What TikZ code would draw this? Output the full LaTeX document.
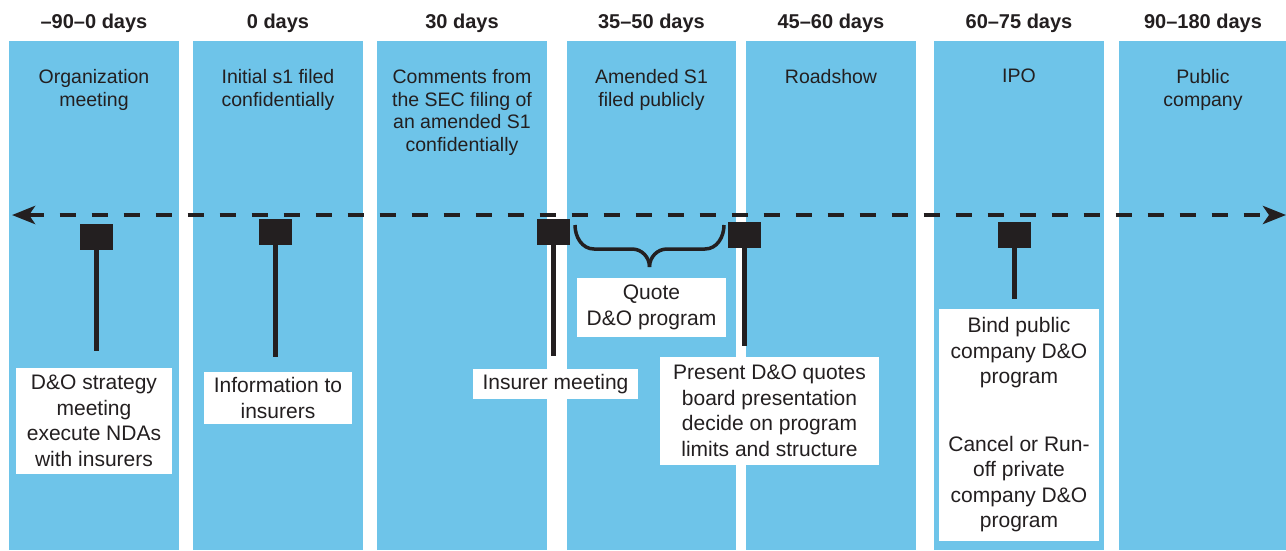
\documentclass[tikz,border=0pt]{standalone}
\usepackage{fontspec}
\setmainfont{Liberation Sans}
\usetikzlibrary{arrows.meta}
\definecolor{colblue}{HTML}{6EC4E9}
\definecolor{ink}{HTML}{231F20}
\begin{document}
\begin{tikzpicture}[x=1pt,y=-1pt,
 col/.style={fill=colblue, draw=none, inner sep=0, minimum height=509pt, anchor=north west},
 hdr/.style={font=\bfseries\fontsize{20}{24}\selectfont, text=ink, anchor=base, inner sep=0},
 ctext/.style={font=\fontsize{19.5}{22.7}\selectfont, text=ink, align=center, anchor=north, inner sep=0},
 txtbox/.style={fill=white, text=ink, font=\fontsize{21}{25.5}\selectfont, align=center, inner sep=0},
 marker/.style={fill=ink, minimum width=33pt, minimum height=26pt, inner sep=0},
 stem/.style={draw=ink, line width=5pt},
 timeline/.style={draw=ink, line width=4.5pt, dash pattern=on 16.5pt off 15.5pt,
   {Stealth[length=23pt,width=18pt,inset=6pt]}-{Stealth[length=23pt,width=18pt,inset=6pt]}},
 bracestyle/.style={draw=ink, line width=3.5pt},
]
\useasboundingbox (0,0) rectangle (1286,550);
\fill[white] (0,0) rectangle (1286,550);

% columns
\node[col, minimum width=170pt] (c1) at (9,41) {};
\node[col, minimum width=170pt] (c2) at (193,41) {};
\node[col, minimum width=170pt] (c3) at (377,41) {};
\node[col, minimum width=169pt] (c4) at (567,41) {};
\node[col, minimum width=170pt] (c5) at (746,41) {};
\node[col, minimum width=170pt] (c6) at (934,41) {};
\node[col, minimum width=167pt] (c7) at (1119,41) {};

% headers
\node[hdr] (h1) at (94,28) {–90–0 days};
\node[hdr] (h2) at (278,28) {0 days};
\node[hdr] (h3) at (462,28) {30 days};
\node[hdr] (h4) at (651.5,28) {35–50 days};
\node[hdr] (h5) at (831,28) {45–60 days};
\node[hdr] (h6) at (1019,28) {60–75 days};
\node[hdr] (h7) at (1203,28) {90–180 days};

% column texts
\node[ctext] (t1) at (94,69) {Organization\\meeting};
\node[ctext] (t2) at (278,69) {Initial s1 filed\\confidentially};
\node[ctext] (t3) at (462,69) {Comments from\\the SEC filing of\\an amended S1\\confidentially};
\node[ctext] (t4) at (651.5,69) {Amended S1\\filed publicly};
\node[ctext] (t5) at (831,69) {Roadshow};
\node[ctext] (t6) at (1019,69) {IPO};
\node[ctext] (t7) at (1203,69) {Public\\company};

% timeline
\coordinate (L) at (12,215);
\coordinate (R) at (1286,215);
\draw[timeline] (L) -- (R);

% markers and stems
\node[marker] (m1) at (96.5,237) {};
\node[marker] (m2) at (275.5,232) {};
\node[marker] (m3) at (553.5,232) {};
\node[marker] (m4) at (744.5,235) {};
\node[marker] (m5) at (1014.5,235) {};
\coordinate (e1) at (96.5,351);
\coordinate (e2) at (275.5,357);
\coordinate (e3) at (553.5,356);
\coordinate (e4) at (744.5,346);
\coordinate (e5) at (1014.5,299);
\draw[stem] (m1.south) -- (e1);
\draw[stem] (m2.south) -- (e2);
\draw[stem] (m3.south) -- (e3);
\draw[stem] (m4.south) -- (e4);
\draw[stem] (m5.south) -- (e5);

% brace
\coordinate (bl) at (575,225);
\coordinate (btip) at (649.5,267);
\coordinate (br) at (724,225);
\draw[bracestyle] (bl) to[out=-90,in=180] (594,249) -- (632,249) to[out=0,in=90] (btip);
\draw[bracestyle] (btip) to[out=90,in=180] (667,249) -- (705,249) to[out=0,in=-90] (br);

% text boxes
\node[txtbox, minimum width=156pt, minimum height=106pt] (bA) at (94,421) {D\&O strategy\\meeting\\execute NDAs\\with insurers};
\node[txtbox, minimum width=148pt, minimum height=52pt] (bB) at (278,398) {Information to\\insurers};
\node[txtbox, minimum width=165pt, minimum height=30pt] (bC) at (555.5,384) {Insurer meeting};
\node[txtbox, minimum width=149pt, minimum height=59pt] (bD) at (651.5,307.5) {Quote\\D\&O program};
\node[txtbox, minimum width=219pt, minimum height=108pt] (bE) at (769.5,411) {Present D\&O quotes\\board presentation\\decide on program\\limits and structure};
\node[txtbox, minimum width=160pt, minimum height=232pt] (bF) at (1019,425) {Bind public\\company D\&O\\program\\[42pt]Cancel or Run-\\off private\\company D\&O\\program};
\end{tikzpicture}
\end{document}
